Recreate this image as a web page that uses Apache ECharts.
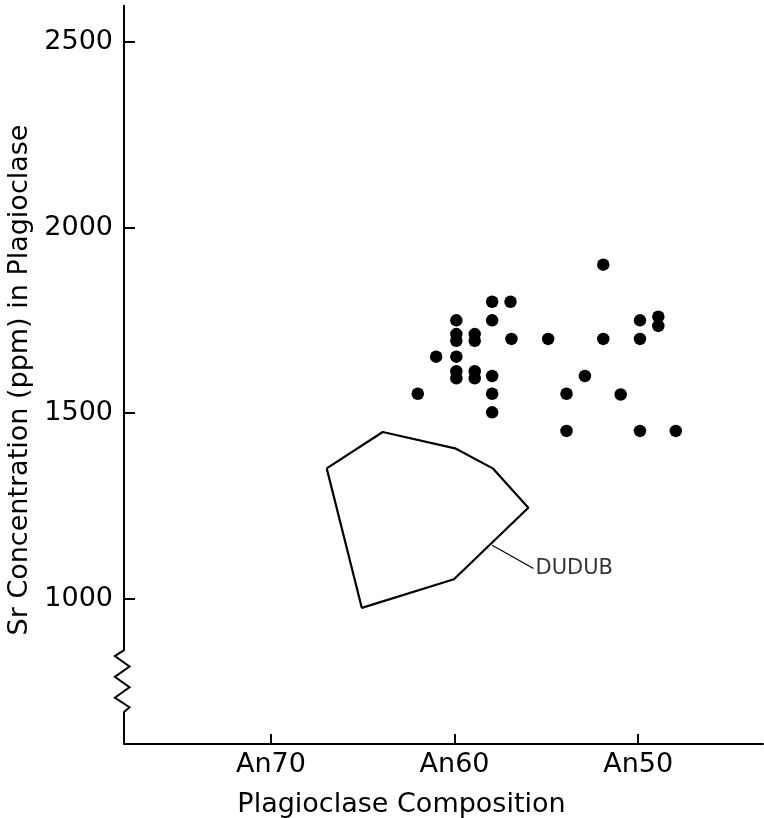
<!DOCTYPE html>
<html>
<head>
<meta charset="utf-8">
<script src="https://cdn.jsdelivr.net/npm/echarts@6/dist/echarts.min.js"></script>
<style>
html, body { margin: 0; padding: 0; background: #fff; }
#chart { width: 764px; height: 818px; }
</style>
</head>
<body>
<div id="chart"></div>
<script>
// plagioclase composition (An %) and Sr (ppm) for each sample
const sampleAn = [57.95, 56.95, 59.9, 57.95, 59.9, 59.9, 58.9, 58.9, 56.9, 54.9, 61.0, 59.9, 59.9, 59.9, 58.9, 58.9,
  57.95, 62.0, 57.95, 57.95, 53.9, 53.9, 51.9, 49.9, 48.9, 48.9, 51.9, 49.9, 52.9, 50.95, 49.9, 47.95]
const sampleSr = [1800, 1800, 1750, 1750, 1713, 1695, 1713, 1695, 1700, 1700, 1652, 1652, 1613, 1594, 1613, 1594,
  1600, 1552, 1552, 1502, 1552, 1452, 1900, 1750, 1760, 1735, 1700, 1700, 1600, 1550, 1452, 1452]

// outline of the Dudub field
const dudubAn = [66.96, 63.91, 59.97, 57.92, 55.98, 60.03, 65.05, 66.96]
const dudubSr = [1351, 1449, 1405, 1351, 1245, 1052, 975, 1351]
const leaderAn = [57.95, 55.7]
const leaderSr = [1144, 1081]

const xTicks = [70, 60, 50]
const yTicks = [1000, 1500, 2000, 2500]

// y axis line with the break zigzag
const axisAn = [78, 78, 78.5, 77.7, 78.5, 77.7, 78.5, 77.7, 78, 78]
const axisSr = [2600, 861, 845, 817, 789, 761, 733, 707, 694, 608]

const font = 'DejaVu Sans'

function zip (a, b) {
  return a.map((v, i) => [v, b[i]])
}

let option = {
  animation: false,
  grid: {
    left: 124,
    right: 1,
    top: 5,
    bottom: 74,
    containLabel: false,
    outerBoundsMode: 'none'
  },
  xAxis: {
    type: 'value',
    min: 43.2,
    max: 78,
    inverse: true,
    axisLine: {
      lineStyle: { color: '#000', width: 2 }
    },
    axisTick: {
      inside: true,
      length: 10,
      customValues: xTicks,
      lineStyle: { color: '#000', width: 2 }
    },
    axisLabel: {
      customValues: xTicks,
      formatter: 'An{value}',
      color: '#000',
      fontFamily: font,
      fontSize: 27,
      margin: 7
    },
    splitLine: { show: false },
    name: 'Plagioclase Composition',
    nameLocation: 'middle',
    nameGap: 47,
    nameTextStyle: {
      color: '#000',
      fontFamily: font,
      fontSize: 27,
      padding: [0, 84, 0, 0]
    }
  },
  yAxis: {
    type: 'value',
    min: 608,
    max: 2600,
    axisLine: { show: false },
    axisTick: {
      show: true,
      inside: true,
      length: 11,
      customValues: yTicks,
      lineStyle: { color: '#000', width: 2 }
    },
    axisLabel: {
      customValues: yTicks,
      formatter: (v) => String(v),
      color: '#000',
      fontFamily: font,
      fontSize: 27,
      margin: 11
    },
    splitLine: { show: false },
    name: 'Sr Concentration (ppm) in Plagioclase',
    nameLocation: 'middle',
    nameGap: 80,
    nameTextStyle: {
      color: '#000',
      fontFamily: font,
      fontSize: 27,
      padding: [0, 11, 0, 0]
    }
  },
  series: [
    {
      type: 'scatter',
      data: zip(sampleAn, sampleSr),
      symbolSize: 12.5,
      itemStyle: { color: '#000', opacity: 1 }
    },
    {
      type: 'line',
      data: zip(dudubAn, dudubSr),
      symbol: 'none',
      lineStyle: { color: '#000', width: 2.2 }
    },
    {
      type: 'line',
      data: zip(leaderAn, leaderSr),
      symbol: 'none',
      lineStyle: { color: '#000', width: 1.2 }
    },
    {
      type: 'scatter',
      data: [[leaderAn[1], leaderSr[1]]],
      symbolSize: 0,
      silent: true,
      label: {
        show: true,
        position: 'right',
        distance: 2,
        formatter: 'DUDUB',
        color: '#000',
        fontFamily: font,
        fontSize: 21
      }
    }
  ]
}

var myChart = echarts.init(document.getElementById('chart'))
myChart.setOption(option)

// axis line with the break, placed through the grid's own scales
let axisPoints = zip(axisAn, axisSr).map((p) => myChart.convertToPixel({ gridIndex: 0 }, p))
myChart.setOption({
  graphic: [{
    type: 'polyline',
    silent: true,
    shape: { points: axisPoints },
    style: { stroke: '#000', lineWidth: 2, fill: null }
  }]
})
</script>
</body>
</html>
